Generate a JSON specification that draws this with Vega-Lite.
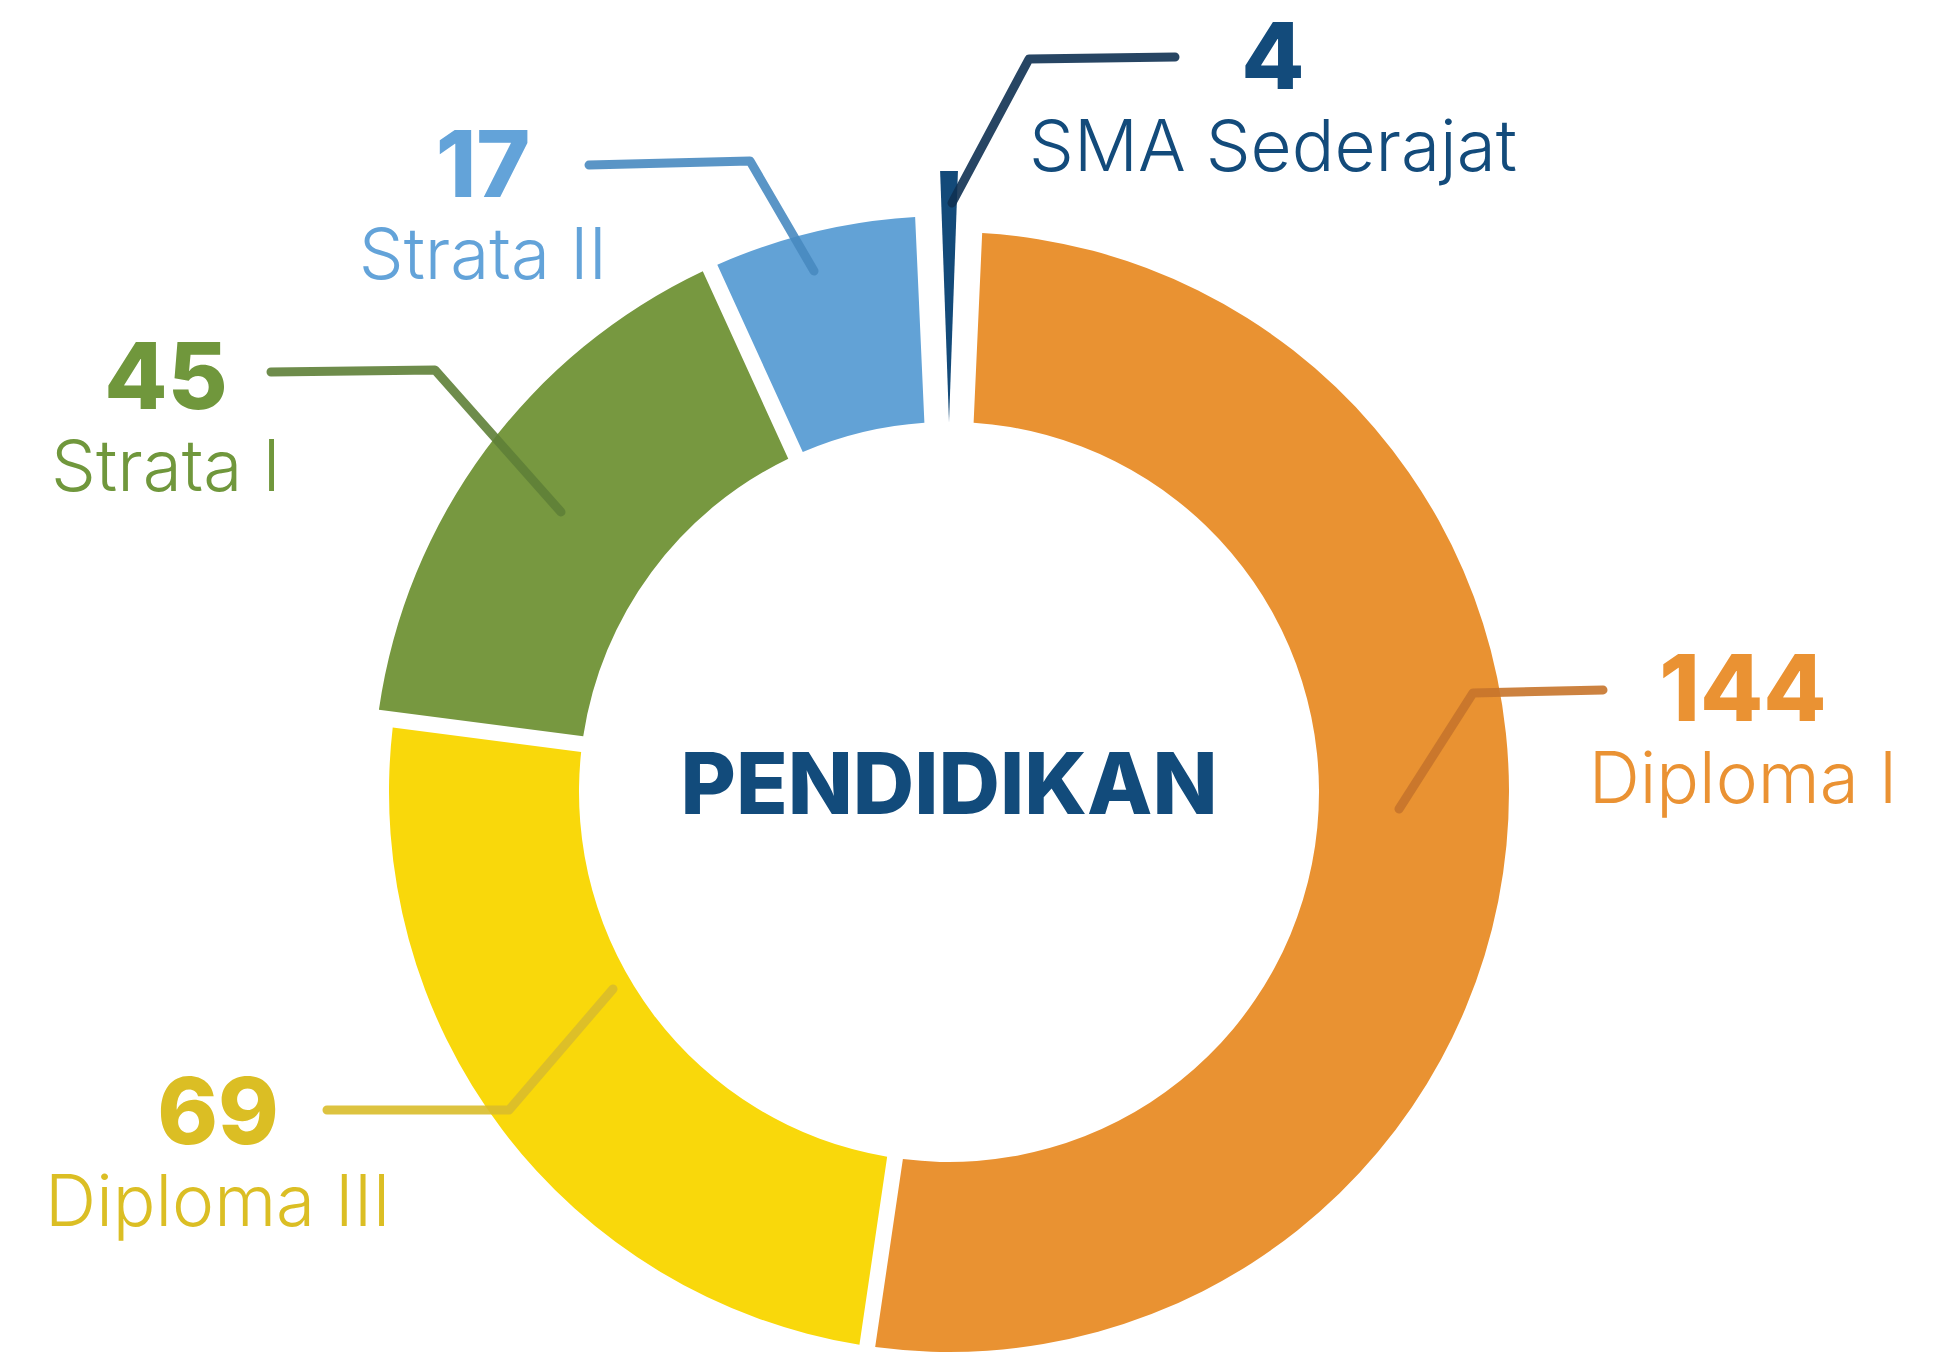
{
  "$schema": "https://vega.github.io/schema/vega-lite/v6.json",
  "width": 1933,
  "height": 1361,
  "autosize": {"type": "none"},
  "padding": 0,
  "background": "white",
  "config": {"view": {"stroke": null}},
  "datasets": {
    "segments": [
      {"label": "SMA Sederajat", "value": 4},
      {"label": "Diploma I", "value": 144},
      {"label": "Diploma III", "value": 69},
      {"label": "Strata I", "value": 45},
      {"label": "Strata II", "value": 17}
    ],
    "annotations": [
      {"label": "SMA Sederajat", "ax": 324, "ay": 703},
      {"label": "Diploma I", "ax": 794, "ay": 71},
      {"label": "Diploma III", "ax": -731, "ay": -352},
      {"label": "Strata I", "ax": -783, "ay": 383},
      {"label": "Strata II", "ax": -466, "ay": 595}
    ],
    "leaders": [
      {"label": "SMA Sederajat", "step": 1, "x": 3, "y": 589},
      {"label": "SMA Sederajat", "step": 2, "x": 80, "y": 733},
      {"label": "SMA Sederajat", "step": 3, "x": 226, "y": 735},
      {"label": "Strata II", "step": 1, "x": -135, "y": 521},
      {"label": "Strata II", "step": 2, "x": -199, "y": 631},
      {"label": "Strata II", "step": 3, "x": -360, "y": 627},
      {"label": "Strata I", "step": 1, "x": -388, "y": 280},
      {"label": "Strata I", "step": 2, "x": -514, "y": 422},
      {"label": "Strata I", "step": 3, "x": -678, "y": 420},
      {"label": "Diploma I", "step": 1, "x": 450, "y": -17},
      {"label": "Diploma I", "step": 2, "x": 524, "y": 99},
      {"label": "Diploma I", "step": 3, "x": 654, "y": 102},
      {"label": "Diploma III", "step": 1, "x": -336, "y": -197},
      {"label": "Diploma III", "step": 2, "x": -440, "y": -318},
      {"label": "Diploma III", "step": 3, "x": -622, "y": -318}
    ],
    "center": [{"title": "PENDIDIKAN"}]
  },
  "resolve": {"scale": {"color": "independent"}},
  "layer": [
    {
      "data": {"name": "segments"},
      "transform": [
        {"stack": "value", "groupby": [], "as": ["start", "end"]},
        {"filter": {"field": "label", "oneOf": ["Diploma I", "Diploma III"]}}
      ],
      "mark": {"type": "arc", "radius": 560, "radius2": 370, "padAngle": 0.0237},
      "encoding": {
        "x": {"datum": 0, "type": "quantitative", "scale": {"domain": [-949, 984], "nice": false, "zero": false}, "axis": null},
        "y": {"datum": 0, "type": "quantitative", "scale": {"domain": [-569, 792], "nice": false, "zero": false}, "axis": null},
        "theta": {"field": "start", "type": "quantitative", "scale": {"domain": [0, 279], "range": [-0.045, 6.2382]}},
        "theta2": {"field": "end"},
        "color": {"field": "label", "type": "nominal", "legend": null,
          "scale": {"domain": ["SMA Sederajat", "Diploma I", "Diploma III", "Strata I", "Strata II"], "range": ["#134a79", "#e99232", "#f9d80b", "#779840", "#62a2d6"]}}
      }
    },
    {
      "data": {"name": "segments"},
      "transform": [
        {"stack": "value", "groupby": [], "as": ["start", "end"]},
        {"filter": {"field": "label", "oneOf": ["Strata I", "Strata II"]}}
      ],
      "mark": {"type": "arc", "radius": 576, "radius2": 370, "padAngle": 0.0233},
      "encoding": {
        "x": {"datum": 0, "type": "quantitative", "axis": null},
        "y": {"datum": 0, "type": "quantitative", "axis": null},
        "theta": {"field": "start", "type": "quantitative", "scale": {"domain": [0, 279], "range": [-0.045, 6.2382]}},
        "theta2": {"field": "end"},
        "color": {"field": "label", "type": "nominal", "legend": null,
          "scale": {"domain": ["SMA Sederajat", "Diploma I", "Diploma III", "Strata I", "Strata II"], "range": ["#134a79", "#e99232", "#f9d80b", "#779840", "#62a2d6"]}}
      }
    },
    {
      "data": {"name": "segments"},
      "transform": [
        {"stack": "value", "groupby": [], "as": ["start", "end"]},
        {"filter": {"field": "label", "oneOf": ["SMA Sederajat"]}}
      ],
      "mark": {"type": "arc", "radius": 621, "radius2": 370, "padAngle": 0.0527},
      "encoding": {
        "x": {"datum": 0, "type": "quantitative", "axis": null},
        "y": {"datum": 0, "type": "quantitative", "axis": null},
        "theta": {"field": "start", "type": "quantitative", "scale": {"domain": [0, 279], "range": [-0.045, 6.2382]}},
        "theta2": {"field": "end"},
        "color": {"field": "label", "type": "nominal", "legend": null,
          "scale": {"domain": ["SMA Sederajat", "Diploma I", "Diploma III", "Strata I", "Strata II"], "range": ["#134a79", "#e99232", "#f9d80b", "#779840", "#62a2d6"]}}
      }
    },
    {
      "data": {"name": "leaders"},
      "mark": {"type": "line", "strokeWidth": 9, "strokeCap": "round", "strokeJoin": "round", "opacity": 0.9},
      "encoding": {
        "x": {"field": "x", "type": "quantitative", "axis": null},
        "y": {"field": "y", "type": "quantitative", "axis": null},
        "order": {"field": "step", "type": "quantitative"},
        "color": {"field": "label", "type": "nominal", "legend": null,
          "scale": {"domain": ["SMA Sederajat", "Diploma I", "Diploma III", "Strata I", "Strata II"], "range": ["#0f3152", "#c7742b", "#d9bc2b", "#5e7f37", "#4889c0"]}}
      }
    },
    {
      "data": {"name": "annotations"},
      "transform": [
        {"lookup": "label", "from": {"data": {"name": "segments"}, "key": "label", "fields": ["value"]}}
      ],
      "mark": {"type": "text", "font": "Inter", "fontWeight": 800, "fontSize": 92, "align": "center", "baseline": "alphabetic"},
      "encoding": {
        "x": {"field": "ax", "type": "quantitative", "axis": null},
        "y": {"field": "ay", "type": "quantitative", "axis": null},
        "text": {"field": "value", "type": "quantitative"},
        "color": {"field": "label", "type": "nominal", "legend": null,
          "scale": {"domain": ["SMA Sederajat", "Diploma I", "Diploma III", "Strata I", "Strata II"], "range": ["#134b7b", "#ea9233", "#dbbe24", "#70973c", "#63a3d9"]}}
      }
    },
    {
      "data": {"name": "annotations"},
      "mark": {"type": "text", "font": "Inter", "fontWeight": 300, "fontSize": 71, "align": "center", "baseline": "alphabetic", "dy": 82},
      "encoding": {
        "x": {"field": "ax", "type": "quantitative", "axis": null},
        "y": {"field": "ay", "type": "quantitative", "axis": null},
        "text": {"field": "label", "type": "nominal"},
        "color": {"field": "label", "type": "nominal", "legend": null,
          "scale": {"domain": ["SMA Sederajat", "Diploma I", "Diploma III", "Strata I", "Strata II"], "range": ["#134b7b", "#ea9233", "#dbbe24", "#70973c", "#63a3d9"]}}
      }
    },
    {
      "data": {"name": "center"},
      "mark": {"type": "text", "font": "Inter", "fontWeight": 800, "fontSize": 85, "align": "center", "baseline": "alphabetic", "dy": 22, "color": "#124b7b"},
      "encoding": {
        "x": {"datum": 0, "type": "quantitative", "axis": null},
        "y": {"datum": 0, "type": "quantitative", "axis": null},
        "text": {"field": "title", "type": "nominal"}
      }
    }
  ]
}
